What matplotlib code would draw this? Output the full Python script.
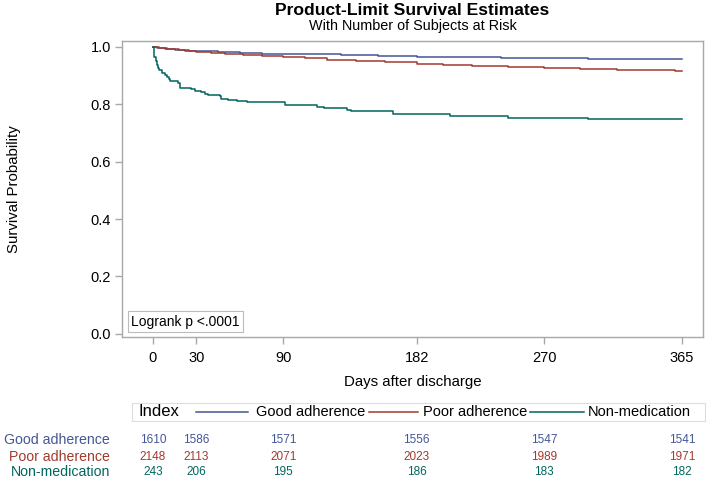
import matplotlib
matplotlib.use('agg')
import matplotlib.pyplot as plt
import matplotlib.transforms as mtransforms

plt.rcParams['font.family'] = ['Liberation Sans', 'DejaVu Sans']

# Step curves (day, survival).
good_t = [0, 3, 8, 15, 22, 30, 45, 60, 75, 90, 110, 130, 155, 182, 205, 240, 270, 300, 330, 355, 365]
good_s = [1.000, 0.997, 0.994, 0.990, 0.987, 0.985, 0.982, 0.979, 0.977, 0.976, 0.974, 0.972,
          0.969, 0.966, 0.964, 0.962, 0.961, 0.959, 0.958, 0.957, 0.957]

poor_t = [0, 4, 10, 18, 25, 30, 40, 50, 62, 75, 90, 105, 120, 140, 160, 182, 200, 220, 245,
          270, 295, 320, 345, 360, 365]
poor_s = [1.000, 0.997, 0.993, 0.989, 0.986, 0.984, 0.979, 0.975, 0.971, 0.967, 0.964, 0.960,
          0.956, 0.951, 0.947, 0.942, 0.938, 0.934, 0.930, 0.926, 0.923, 0.921, 0.919, 0.918, 0.918]

nonmed_t = [0, 0.5, 1, 2, 2.5, 3.5, 4.5, 6, 8, 9.5, 11, 12, 17.5, 18.5, 19, 26, 29, 33, 36, 38,
            46, 47, 52, 58, 65, 91, 113, 118, 134, 137, 166, 205, 245, 300, 365]
nonmed_s = [1.000, 0.984, 0.966, 0.951, 0.938, 0.926, 0.920, 0.909, 0.901, 0.897, 0.889, 0.880,
            0.874, 0.864, 0.857, 0.852, 0.848, 0.844, 0.836, 0.832, 0.828, 0.819, 0.815, 0.811,
            0.807, 0.798, 0.790, 0.786, 0.782, 0.778, 0.766, 0.759, 0.753, 0.749, 0.749]

groups = ['Good adherence', 'Poor adherence', 'Non-medication']
colors = ['#445694', '#A23A2E', '#01665E']

risk_days = [0, 30, 90, 182, 270, 365]
risk_good = [1610, 1586, 1571, 1556, 1547, 1541]
risk_poor = [2148, 2113, 2071, 2023, 1989, 1971]
risk_nonmed = [243, 206, 195, 186, 183, 182]

yticks = [0.0, 0.2, 0.4, 0.6, 0.8, 1.0]

axcol = '#A8A8A8'

fig = plt.figure(figsize=(7.09, 4.82), dpi=100)
ax = fig.add_axes([0.172, 0.3008, 0.8195, 0.6142])

curves = [(good_t, good_s), (poor_t, poor_s), (nonmed_t, nonmed_s)]
for (t, s), c in zip(curves, colors):
    ax.step(t, s, where='post', color=c, linewidth=1.1)

ax.set_xlim(-21.4, 379.6)
ax.set_ylim(-0.011, 1.021)
ax.set_xticks(risk_days)
ax.set_yticks(yticks)
ax.set_yticklabels(['%.1f' % v for v in yticks])
for sp in ax.spines.values():
    sp.set_color(axcol)
    sp.set_linewidth(1.0)
ax.tick_params(direction='out', length=5, width=1, color=axcol, labelsize=10.5, pad=3)
ax.tick_params(axis='x', pad=5)

ax.set_xlabel('Days after discharge', fontsize=10.8, labelpad=7)
ax.set_ylabel('Survival Probability', fontsize=10.8)
ax.yaxis.set_label_coords(-0.174, 0.5)

# Logrank box.
ax.text(0.016, 0.052, 'Logrank p <.0001', transform=ax.transAxes, fontsize=10,
        va='center', ha='left',
        bbox=dict(boxstyle='square,pad=0.25', facecolor='white', edgecolor='#BBBBBB', linewidth=0.8))

# Titles.
xc = (0.172 + 0.172 + 0.8195) / 2
fig.text(xc, 0.978, 'Product-Limit Survival Estimates', ha='center', va='center',
         fontsize=12.6, fontweight='bold')
fig.text(xc, 0.947, 'With Number of Subjects at Risk', ha='center', va='center', fontsize=10.4)

# Legend box.
lx0, lx1 = 0.186, 0.994
ly0, ly1 = 0.1266, 0.164
fig.patches.append(plt.Rectangle((lx0, ly0), lx1 - lx0, ly1 - ly0, transform=fig.transFigure,
                                 facecolor='white', edgecolor='#DDDDDD', linewidth=0.8))
ly = (ly0 + ly1) / 2
fig.text(0.195, ly, 'Index', ha='left', va='center', fontsize=12)
line_x = [(0.2764, 0.3498, 0.361), (0.5204, 0.5896, 0.5966), (0.7475, 0.8237, 0.829)]
for (a, b, tx), c, g in zip(line_x, colors, groups):
    fig.add_artist(plt.Line2D([a, b], [ly, ly], transform=fig.transFigure, color=c, linewidth=1.1))
    fig.text(tx, ly, g, ha='left', va='center', fontsize=10.5)

# Numbers at risk table.
trans = mtransforms.blended_transform_factory(ax.transData, fig.transFigure)
row_y = [0.0871, 0.0519, 0.0207]
for g, c, yy, vals in zip(groups, colors, row_y, [risk_good, risk_poor, risk_nonmed]):
    fig.text(0.155, yy, g, ha='right', va='center', fontsize=10.2, color=c)
    for d, v in zip(risk_days, vals):
        ax.text(d, yy, str(v), transform=trans, ha='center', va='center', fontsize=8.5,
                color=c, clip_on=False)

fig.savefig('out.png', dpi=100)
